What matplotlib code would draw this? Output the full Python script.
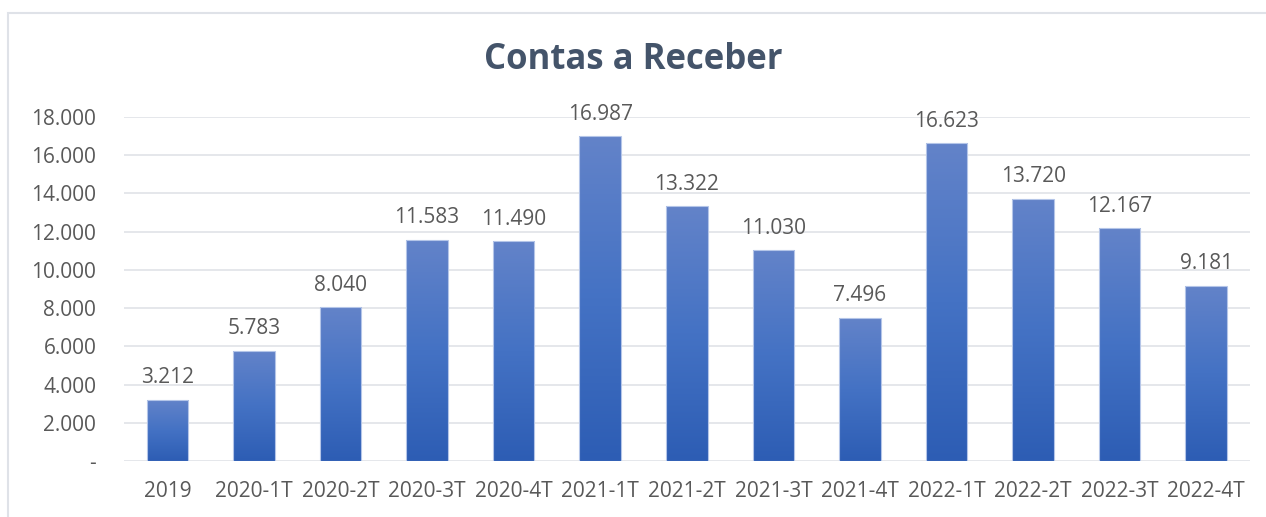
import numpy as np
import matplotlib.pyplot as plt
from matplotlib.colors import LinearSegmentedColormap
from matplotlib.patches import Rectangle

# Dados do gráfico
periodos = ['2019', '2020-1T', '2020-2T', '2020-3T', '2020-4T', '2021-1T', '2021-2T',
            '2021-3T', '2021-4T', '2022-1T', '2022-2T', '2022-3T', '2022-4T']
valores = [3212, 5783, 8040, 11583, 11490, 16987, 13322, 11030, 7496, 16623, 13720, 12167, 9181]
ticks_y = [0, 2000, 4000, 6000, 8000, 10000, 12000, 14000, 16000, 18000]


def fmt_br(v):
    # separador de milhar com ponto, zero vira "-"
    if v == 0:
        return '-'
    return f'{v:,.0f}'.replace(',', '.')


plt.rcParams['font.family'] = ['Open Sans', 'DejaVu Sans']
texto_cor = '#595959'

fig = plt.figure(figsize=(12.66, 5.17), dpi=100)
ax = fig.add_axes([0.098, 0.108, 0.889, 0.666])

# gradiente vertical em cada barra (claro em cima, escuro embaixo)
cmap = LinearSegmentedColormap.from_list('grad', ['#2d5db4', '#4472c4', '#6383c9'])
grad = np.linspace(0, 1, 256).reshape(-1, 1)
largura = 0.48
x = np.arange(len(periodos))
bars = ax.bar(x, valores, width=largura, color='none', edgecolor='#b4c5e8', linewidth=0.8, zorder=3)
for b in bars:
    x0, y0 = b.get_x(), b.get_y()
    w, h = b.get_width(), b.get_height()
    im = ax.imshow(grad, cmap=cmap, aspect='auto', origin='lower',
                   extent=(x0, x0 + w, y0, y0 + h), zorder=2)
    im.set_clip_path(Rectangle((x0, y0), w, h, transform=ax.transData))

for xi, v in zip(x, valores):
    ax.text(xi, v + 1150, fmt_br(v), ha='center', va='center', fontsize=15, color=texto_cor)

ax.set_xlim(-0.5, len(periodos) - 0.5)
ax.set_ylim(0, 18000)
ax.set_yticks(ticks_y)
ax.set_yticklabels([fmt_br(t) for t in ticks_y])
ax.set_xticks(x)
ax.set_xticklabels(periodos)
ax.tick_params(axis='both', length=0, labelsize=15, colors=texto_cor)
ax.tick_params(axis='y', pad=20)
ax.tick_params(axis='x', pad=14)
ax.grid(axis='y', color='#e0e3e8', linewidth=1.2, zorder=0)
ax.set_axisbelow(True)
for s in ax.spines.values():
    s.set_visible(False)

fig.text(0.5, 0.883, 'Contas a Receber', ha='center', va='center', fontsize=25,
         fontweight='bold', color='#44546a')

# moldura do gráfico
fig.add_artist(Rectangle((8 / 1266, -0.1), 2, 1.1 - 13 / 517, transform=fig.transFigure,
                         fill=False, edgecolor='#dfe2e8', linewidth=1.5))

fig.savefig('out.png', dpi=100)
